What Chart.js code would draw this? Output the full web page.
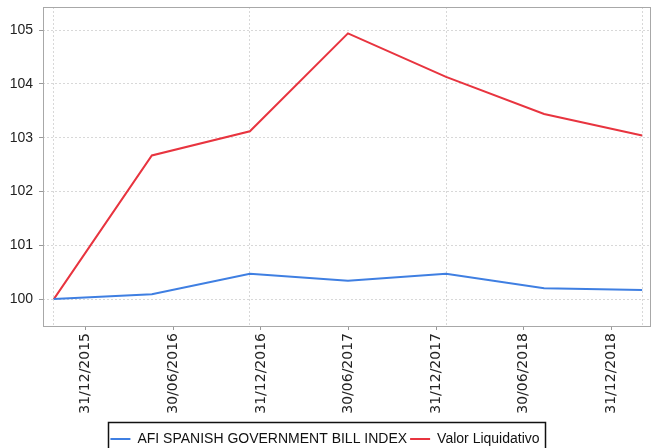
<!DOCTYPE html>
<html>
<head>
<meta charset="utf-8">
<script src="https://cdn.jsdelivr.net/npm/chart.js@4/dist/chart.umd.min.js"></script>
<style>
  html, body { margin: 0; padding: 0; background: #fff; }
  #wrap { width: 653px; height: 448px; position: relative; }
</style>
</head>
<body>
<div id="wrap"><canvas id="c" width="653" height="448"></canvas></div>
<script>
// ---- data ----
const categories = ['31/12/2015', '30/06/2016', '31/12/2016', '30/06/2017', '31/12/2017', '30/06/2018', '31/12/2018'];
const seriesNames = ['AFI SPANISH GOVERNMENT BILL INDEX', 'Valor Liquidativo'];
const afiIndex = [100.00, 100.09, 100.47, 100.34, 100.47, 100.20, 100.17];
const valorLiquidativo = [100.00, 102.67, 103.12, 104.94, 104.13, 103.44, 103.04];
const yTickValues = [100, 101, 102, 103, 104, 105];

// ---- layout / style constants ----
const X_MIN = -0.11, X_MAX = 6.08;
const LABEL_START = 0.327, LABEL_STEP = 0.893;
const GRID_STEP = 2;
const Y_MIN = 99.5, Y_MAX = 105.43;
const BLUE = '#3f7fe2';
const RED = '#e8343f';

const toPoints = arr => arr.map((v, i) => ({ x: i, y: v }));
const noPad = s => { s.paddingTop = 0; s.paddingBottom = 0; s.paddingLeft = 0; s.paddingRight = 0; };

const frame = {
  id: 'frame',
  afterDraw(chart) {
    const { ctx, chartArea: a } = chart;
    ctx.save();
    ctx.strokeStyle = '#a8a8a8';
    ctx.lineWidth = 1;
    ctx.strokeRect(Math.round(a.left) + 0.5, Math.round(a.top) + 0.5,
                   Math.round(a.right - a.left), Math.round(a.bottom - a.top));
    // legend border
    const lg = chart.legend;
    if (lg && lg.legendHitBoxes && lg.legendHitBoxes.length) {
      const hb = lg.legendHitBoxes;
      const l = hb[0].left - 2;
      const r = hb[hb.length - 1].left + hb[hb.length - 1].width + 6;
      const t = hb[0].top - 10;
      const b = hb[0].top + hb[0].height + 14;
      ctx.strokeStyle = '#111';
      ctx.lineWidth = 1.5;
      ctx.strokeRect(Math.round(l) + 0.5, Math.round(t) + 0.5, Math.round(r - l), Math.round(b - t));
    }
    ctx.restore();
  }
};

new Chart(document.getElementById('c'), {
  type: 'line',
  data: {
    datasets: [
      { label: seriesNames[0], data: toPoints(afiIndex), borderColor: BLUE, backgroundColor: BLUE,
        borderWidth: 2, pointRadius: 0, tension: 0, xAxisID: 'x', yAxisID: 'y' },
      { label: seriesNames[1], data: toPoints(valorLiquidativo), borderColor: RED, backgroundColor: RED,
        borderWidth: 2, pointRadius: 0, tension: 0, xAxisID: 'x', yAxisID: 'y' }
    ]
  },
  options: {
    responsive: false,
    animation: false,
    events: [],
    layout: { padding: { top: 7, right: 3, left: 0, bottom: -8 } },
    plugins: {
      tooltip: { enabled: false },
      legend: {
        position: 'bottom',
        labels: {
          usePointStyle: true,
          pointStyle: 'line',
          pointStyleWidth: 20,
          boxHeight: 14,
          padding: 3,
          color: '#111',
          font: { family: '"Liberation Sans", Arial, sans-serif', size: 14 }
        }
      }
    },
    scales: {
      x: {
        type: 'linear',
        position: 'bottom',
        min: X_MIN, max: X_MAX,
        afterBuildTicks: s => {
          const t = [];
          for (let i = 0; i < categories.length; i += GRID_STEP) t.push({ value: i });
          s.ticks = t;
        },
        afterFit: s => { s.height = 0; noPad(s); },
        ticks: { display: false },
        grid: { color: '#d8d8d8', drawTicks: false },
        border: { display: false, dash: [2, 2] }
      },
      xl: {
        type: 'linear',
        position: 'bottom',
        min: X_MIN, max: X_MAX,
        afterBuildTicks: s => {
          s.ticks = categories.map((c, k) => ({ value: LABEL_START + k * LABEL_STEP }));
        },
        afterFit: s => { s.height = 103; noPad(s); },
        ticks: {
          autoSkip: false,
          minRotation: 90, maxRotation: 90,
          padding: 3,
          color: '#222',
          font: { family: '"DejaVu Sans", sans-serif', size: 14 },
          callback: (v, i) => categories[i]
        },
        grid: { drawOnChartArea: false, color: '#999', tickLength: 4 },
        border: { display: false }
      },
      y: {
        type: 'linear',
        min: Y_MIN, max: Y_MAX,
        afterBuildTicks: s => { s.ticks = yTickValues.map(v => ({ value: v })); },
        afterFit: s => { s.width = 43; noPad(s); },
        ticks: {
          padding: 6,
          color: '#222',
          font: { family: '"Liberation Sans", Arial, sans-serif', size: 14 },
          callback: v => String(v)
        },
        grid: { color: '#d8d8d8', tickColor: '#999', tickLength: 4, tickBorderDash: [] },
        border: { display: false, dash: [2, 2] }
      }
    }
  },
  plugins: [frame]
});
</script>
</body>
</html>
